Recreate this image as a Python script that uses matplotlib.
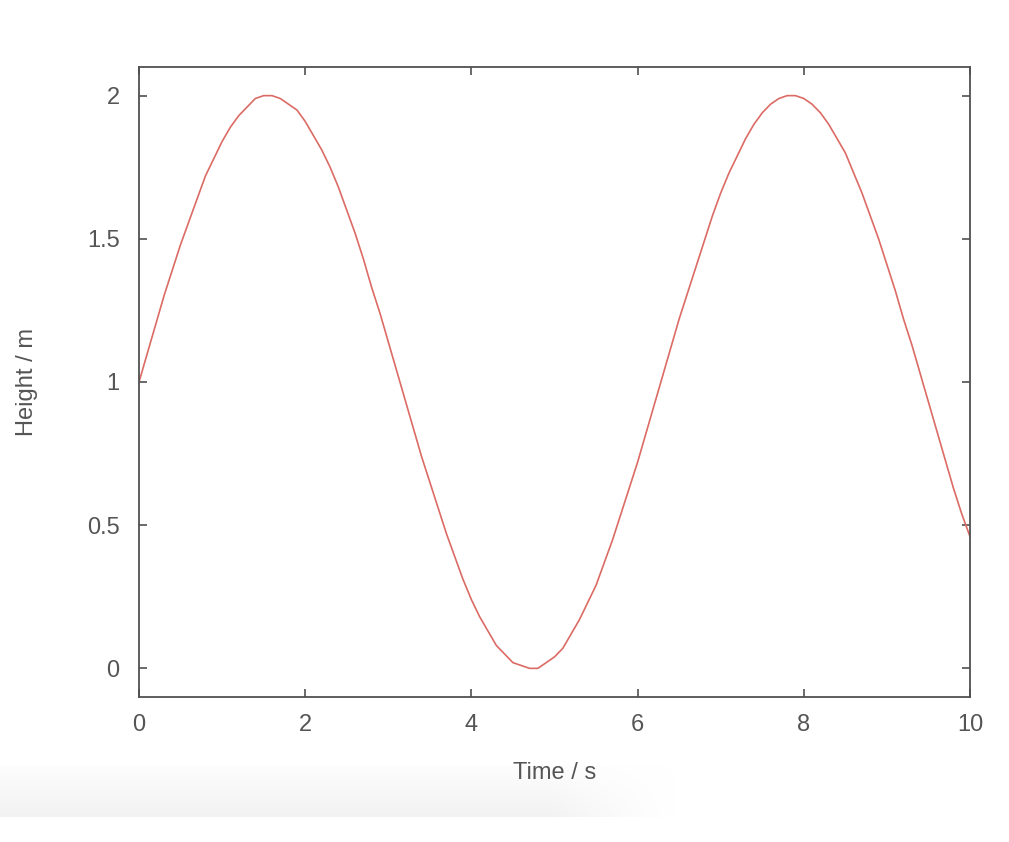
import numpy as np
import matplotlib.pyplot as plt

# values, every 0.1 s
time_s = [0.0, 0.1, 0.2, 0.3, 0.4, 0.5, 0.6, 0.7, 0.8, 0.9,
          1.0, 1.1, 1.2, 1.3, 1.4, 1.5, 1.6, 1.7, 1.8, 1.9,
          2.0, 2.1, 2.2, 2.3, 2.4, 2.5, 2.6, 2.7, 2.8, 2.9,
          3.0, 3.1, 3.2, 3.3, 3.4, 3.5, 3.6, 3.7, 3.8, 3.9,
          4.0, 4.1, 4.2, 4.3, 4.4, 4.5, 4.6, 4.7, 4.8, 4.9,
          5.0, 5.1, 5.2, 5.3, 5.4, 5.5, 5.6, 5.7, 5.8, 5.9,
          6.0, 6.1, 6.2, 6.3, 6.4, 6.5, 6.6, 6.7, 6.8, 6.9,
          7.0, 7.1, 7.2, 7.3, 7.4, 7.5, 7.6, 7.7, 7.8, 7.9,
          8.0, 8.1, 8.2, 8.3, 8.4, 8.5, 8.6, 8.7, 8.8, 8.9,
          9.0, 9.1, 9.2, 9.3, 9.4, 9.5, 9.6, 9.7, 9.8, 9.9,
          10.0]
height_m = [1.00, 1.10, 1.20, 1.30, 1.39, 1.48, 1.56, 1.64, 1.72, 1.78,
            1.84, 1.89, 1.93, 1.96, 1.99, 2.00, 2.00, 1.99, 1.97, 1.95,
            1.91, 1.86, 1.81, 1.75, 1.68, 1.60, 1.52, 1.43, 1.33, 1.24,
            1.14, 1.04, 0.94, 0.84, 0.74, 0.65, 0.56, 0.47, 0.39, 0.31,
            0.24, 0.18, 0.13, 0.08, 0.05, 0.02, 0.01, 0.00, 0.00, 0.02,
            0.04, 0.07, 0.12, 0.17, 0.23, 0.29, 0.37, 0.45, 0.54, 0.63,
            0.72, 0.82, 0.92, 1.02, 1.12, 1.22, 1.31, 1.40, 1.49, 1.58,
            1.66, 1.73, 1.79, 1.85, 1.90, 1.94, 1.97, 1.99, 2.00, 2.00,
            1.99, 1.97, 1.94, 1.90, 1.85, 1.80, 1.73, 1.66, 1.58, 1.50,
            1.41, 1.32, 1.22, 1.13, 1.03, 0.93, 0.83, 0.73, 0.63, 0.54,
            0.46]
xticks = [0, 2, 4, 6, 8, 10]
yticks = [0, 0.5, 1, 1.5, 2]
ytick_labels = ['0', '0.5', '1', '1.5', '2']

plt.rcParams['font.family'] = ['Liberation Sans', 'DejaVu Sans']
text_col = '#555555'
axis_col = '#505050'
fs = 17

fig = plt.figure(figsize=(10.09, 8.42), dpi=100)

# faint grey band left over from the screenshot (darker at the bottom, fades out to the right)
band = fig.add_axes([0, 25 / 842, 680 / 1009, 52 / 842])
xx = np.linspace(0, 680, 340)[None, :]
yy = np.linspace(0, 1, 52)[:, None]
fade_x = np.clip((680 - xx) / 130.0, 0, 1) ** 1.3
fade_y = 0.15 + 0.85 * yy
rgba = np.zeros((52, 340, 4))
rgba[..., :3] = 0.92
rgba[..., 3] = 0.6 * fade_x * fade_y
band.imshow(rgba, aspect='auto', interpolation='bilinear')
band.axis('off')

ax = fig.add_axes([139 / 1009, 1 - 697 / 842, 831 / 1009, 630 / 842])
ax.plot(time_s, height_m, color='#db6b64', linewidth=1.2)

ax.set_xlim(0, 10)
ax.set_ylim(-0.1, 2.1)
ax.set_xticks(xticks)
ax.set_yticks(yticks)
ax.set_yticklabels(ytick_labels)
ax.tick_params(direction='in', length=6, width=1.2, color=axis_col,
               labelsize=fs, labelcolor=text_col, top=True, right=True)
ax.tick_params(axis='x', pad=12)
ax.tick_params(axis='y', pad=14)
for s in ax.spines.values():
    s.set_color(axis_col)
    s.set_linewidth(1.3)

ax.set_xlabel('Time / s', fontsize=fs, color=text_col, labelpad=19)
ax.set_ylabel('Height / m', fontsize=fs, color=text_col, labelpad=35)

fig.savefig('out.png', dpi=100)
